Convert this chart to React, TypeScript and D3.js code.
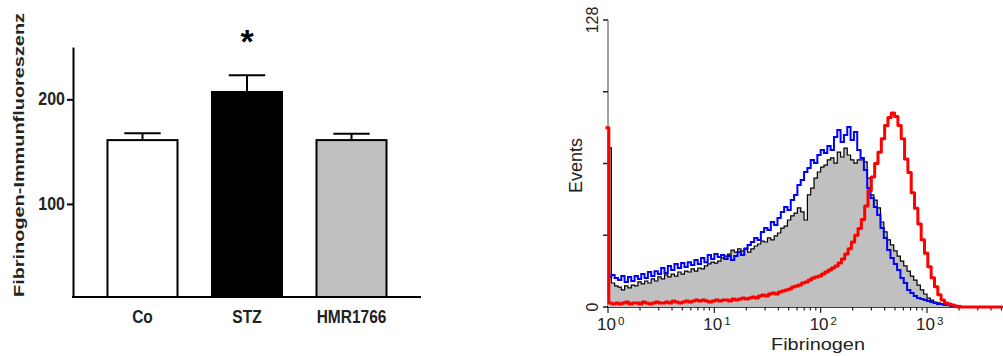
import { useEffect, useRef } from 'react';
import * as d3 from 'd3';

// left panel: mean fluorescence per group
const GROUPS = ['Co', 'STZ', 'HMR1766'];
const GROUP_MEANS = [161, 207, 161];
const GROUP_SEM = [6.5, 16, 6];
const GROUP_FILLS = ['#ffffff', '#000000', '#c0c0c0'];
const BAR_TICKS = [100, 200];

// right panel: flow cytometry overlay, 32 log channels per decade starting at 10^0
const EVENT_TICKS = [0, 32, 64, 96, 128];
const EVENT_LABELS = [0, 128];
const DECADES = [0, 1, 2, 3];
const CHANNELS_PER_DECADE = 32;

const GRAY_COUNTS = [
  71, 10.7, 9.4, 8.9, 7.6, 9.4, 8.5, 9.8, 9.4, 11.2,
  10.3, 11.6, 10.7, 12.5, 11.6, 13.4, 12.5, 14.3, 13.4, 14.7,
  13.8, 15.6, 14.7, 16, 15.6, 17, 16, 17.4, 17, 18.3,
  19.2, 20, 19.6, 20.5, 21.9, 22.7, 23.6, 25.4, 24.5, 25.9,
  25, 26.3, 24.5, 25.9, 27.2, 28.1, 29.4, 29, 30.8, 29.9,
  31.7, 33, 35.2, 36.1, 38.8, 40.6, 41.9, 44.2, 42.4, 38.8,
  50, 53, 57.5, 60.2, 62.4, 63.3, 65.6, 66.5, 64.2, 69.1,
  66.9, 70.9, 67.8, 65.6, 64.2, 65.6, 65.6, 64.7, 57.5, 50,
  47.7, 44.2, 37.9, 33.5, 29.9, 27.7, 25, 22.7, 20.5, 18.3,
  16, 13.8, 12, 9.8, 7.6, 5.8, 4, 3.1, 2.2, 1.8,
  1.3, 0.9, 0.9, 0.4, 0,
];

const BLUE_COUNTS = [
  13.4, 14.3, 12.9, 12, 13.8, 11.2, 13.4, 11.6, 13.8, 12.5,
  14.7, 12.9, 15.6, 13.8, 16, 14.7, 17.4, 15.2, 18.3, 16.5,
  19.2, 17.4, 19.6, 17.8, 20, 18.7, 21, 19.2, 21.9, 20,
  23.2, 21.4, 23.6, 22.3, 23.2, 21.4, 22.7, 21, 22.7, 24.5,
  23.2, 25.9, 27.7, 29, 30.8, 29.9, 33.5, 35.2, 34.3, 37.9,
  36.6, 39.7, 42.4, 44.6, 43.3, 47.7, 50, 54.4, 56.6, 60.2,
  62, 65.6, 64.2, 67.8, 70, 68.7, 71.8, 70, 75.8, 78.9,
  73.6, 76.7, 80.3, 74.5, 78.1, 70, 66.5, 61.1, 53.1, 48.6,
  44.6, 41, 35.2, 30.8, 25.4, 21.9, 19.2, 16.5, 12.9, 10.7,
  7.6, 6.2, 4.9, 4, 3.6, 3.1, 2.7, 2.2, 1.8, 1.3,
  1.3, 0.9, 0.9, 0.4, 0.4, 0.4, 0,
];

const RED_COUNTS = [
  80, 1.8, 1.3, 1.8, 1.3, 1.8, 2.2, 1.3, 1.8, 1.8,
  1.3, 2.2, 1.8, 1.3, 1.8, 2.2, 1.8, 1.8, 2.2, 1.8,
  2.7, 2.2, 1.8, 2.2, 2.7, 2.2, 2.7, 3.1, 2.7, 3.1,
  2.7, 2.2, 2.7, 3.1, 2.7, 3.1, 3.1, 2.7, 3.6, 3.1,
  3.6, 4, 3.6, 4, 4.5, 4, 4.9, 5.4, 4.9, 5.8,
  6.2, 5.8, 6.7, 7.1, 7.6, 8, 8.9, 9.4, 9.8, 10.7,
  11.2, 12, 12.9, 13.4, 13.8, 14.7, 15.6, 16.5, 17.4, 18.3,
  19.6, 21.4, 23.6, 26, 29, 32, 35, 39, 45, 52,
  58, 64, 69, 75, 81, 84.5, 86.5, 85, 81, 75,
  66, 60, 51, 44, 37, 30, 24, 18, 13, 9,
  5.5, 3.1, 1.8, 1.3, 0.9, 0.4, 0,
];

const FONT = '"Liberation Sans", Arial, sans-serif';

export default function App() {
  const svgRef = useRef<SVGSVGElement>(null);

  useEffect(() => {
    if (!svgRef.current) return;
    const svg = d3.select(svgRef.current);
    svg.selectAll('*').remove();

    // ---------- bar chart ----------
    const xBar = d3
      .scaleBand<string>()
      .domain(GROUPS)
      .range([73, 421])
      .paddingInner(0.33)
      .paddingOuter(0.33);
    const yBar = d3.scaleLinear().domain([11, 250]).range([297, 47]);
    const base = yBar.range()[0];

    const left = svg.append('g');

    GROUPS.forEach((grp, i) => {
      const x0 = xBar(grp) ?? 0;
      const bw = xBar.bandwidth();
      const cx = x0 + bw / 2;
      const top = yBar(GROUP_MEANS[i] + GROUP_SEM[i]);
      left.append('line')
        .attr('x1', cx).attr('x2', cx)
        .attr('y1', yBar(GROUP_MEANS[i])).attr('y2', top)
        .attr('stroke', '#000').attr('stroke-width', 2);
      left.append('line')
        .attr('x1', cx - bw * 0.26).attr('x2', cx + bw * 0.26)
        .attr('y1', top).attr('y2', top)
        .attr('stroke', '#000').attr('stroke-width', 2);
      left.append('rect')
        .attr('x', x0)
        .attr('y', yBar(GROUP_MEANS[i]))
        .attr('width', bw)
        .attr('height', base - yBar(GROUP_MEANS[i]))
        .attr('fill', GROUP_FILLS[i])
        .attr('stroke', '#000')
        .attr('stroke-width', 2);
      left.append('text')
        .attr('transform', `translate(${cx},323) scale(1,1.2)`)
        .attr('text-anchor', 'middle')
        .attr('font-family', FONT)
        .attr('font-weight', 'bold')
        .attr('font-size', 15.5)
        .attr('fill', '#222')
        .text(grp);
    });

    // y axis
    const yAxis = left.append('g')
      .attr('transform', 'translate(73,0)')
      .call(d3.axisLeft(yBar).tickValues(BAR_TICKS).tickSize(6).tickSizeOuter(0).tickFormat(() => ''));
    yAxis.selectAll('.domain, .tick line').attr('stroke', '#000').attr('stroke-width', 2);
    BAR_TICKS.forEach((t) => {
      left.append('text')
        .attr('transform', `translate(65,${yBar(t) + 6}) scale(1,1.15)`)
        .attr('text-anchor', 'end')
        .attr('font-family', FONT)
        .attr('font-weight', 'bold')
        .attr('font-size', 16)
        .attr('fill', '#222')
        .text(t);
    });
    left.append('line')
      .attr('x1', 72).attr('x2', xBar.range()[1])
      .attr('y1', base).attr('y2', base)
      .attr('stroke', '#000').attr('stroke-width', 2);

    left.append('text')
      .attr('transform', `translate(24,${(13 + 297) / 2}) rotate(-90)`)
      .attr('text-anchor', 'middle')
      .attr('font-family', FONT)
      .attr('font-weight', 'bold')
      .attr('font-size', 15.5)
      .attr('textLength', 284)
      .attr('lengthAdjust', 'spacingAndGlyphs')
      .attr('fill', '#222')
      .text('Fibrinogen-Immunfluoreszenz');

    // significance mark over STZ
    left.append('text')
      .attr('x', (xBar('STZ') ?? 0) + xBar.bandwidth() / 2)
      .attr('y', 53)
      .attr('text-anchor', 'middle')
      .attr('font-family', FONT)
      .attr('font-weight', 'bold')
      .attr('font-size', 34)
      .text('*');

    // ---------- histogram overlay ----------
    const xLog = d3.scaleLog().domain([1, 1000]).range([608, 927]);
    const yEv = d3.scaleLinear().domain([0, 128]).range([307, 20]);
    const xMax = xLog.invert(1003);
    const right = svg.append('g');

    // y axis
    right.append('line')
      .attr('x1', 608).attr('x2', 608)
      .attr('y1', yEv(128)).attr('y2', yEv(0))
      .attr('stroke', '#808080').attr('stroke-width', 1.5);
    EVENT_TICKS.forEach((t) => {
      right.append('line')
        .attr('x1', 603).attr('x2', 608)
        .attr('y1', yEv(t)).attr('y2', yEv(t))
        .attr('stroke', '#222').attr('stroke-width', 1.5);
    });
    EVENT_LABELS.forEach((t) => {
      right.append('text')
        .attr('transform', `translate(598,${yEv(t)}) rotate(-90)`)
        .attr('text-anchor', 'middle')
        .attr('font-family', FONT)
        .attr('font-size', 16)
        .attr('fill', '#222')
        .text(t);
    });
    right.append('text')
      .attr('transform', `translate(582,${(yEv(0) + yEv(128)) / 2 + 2}) rotate(-90)`)
      .attr('text-anchor', 'middle')
      .attr('font-family', FONT)
      .attr('font-size', 18)
      .attr('fill', '#222')
      .text('Events');

    // x axis
    right.append('line')
      .attr('x1', 607).attr('x2', 1003)
      .attr('y1', yEv(0)).attr('y2', yEv(0))
      .attr('stroke', '#000').attr('stroke-width', 1.5);
    DECADES.forEach((d) => {
      d3.range(1, 10).forEach((k) => {
        const v = k * Math.pow(10, d);
        if (v > xMax) return;
        right.append('line')
          .attr('x1', xLog(v)).attr('x2', xLog(v))
          .attr('y1', yEv(0)).attr('y2', yEv(0) + (k === 1 ? 6 : 3.5))
          .attr('stroke', '#222').attr('stroke-width', 1.2);
      });
      const lbl = right.append('text')
        .attr('x', xLog(Math.pow(10, d)) - 11)
        .attr('y', 330)
        .attr('font-family', FONT)
        .attr('font-size', 17)
        .attr('fill', '#222');
      lbl.append('tspan').text('10');
      lbl.append('tspan').attr('dx', 2).attr('dy', -5).attr('font-size', 11.5).text(d);
    });
    right.append('text')
      .attr('x', 818)
      .attr('y', 350)
      .attr('text-anchor', 'middle')
      .attr('font-family', FONT)
      .attr('font-size', 17)
      .attr('textLength', 94)
      .attr('lengthAdjust', 'spacingAndGlyphs')
      .attr('fill', '#222')
      .text('Fibrinogen');

    const chanX = (i: number) => xLog(Math.pow(10, i / CHANNELS_PER_DECADE));
    const toPts = (counts: number[]) =>
      counts.map((c, i) => [chanX(i), yEv(c)] as [number, number]);

    const area = d3.area<[number, number]>()
      .curve(d3.curveStepAfter)
      .x((p) => p[0]).y0(yEv(0)).y1((p) => p[1]);
    const line = d3.line<[number, number]>()
      .curve(d3.curveStepAfter)
      .x((p) => p[0]).y((p) => p[1]);

    const grayPts = toPts(GRAY_COUNTS);
    right.append('path').attr('d', area(grayPts)).attr('fill', '#c0c0c0');
    right.append('path').attr('d', line(grayPts))
      .attr('fill', 'none').attr('stroke', '#000').attr('stroke-width', 1.2);

    right.append('path').attr('d', line(toPts(BLUE_COUNTS)))
      .attr('fill', 'none').attr('stroke', '#0000ff').attr('stroke-width', 2);

    // red overlay sits a hair left of the others, as in the original export
    const redPts = toPts(RED_COUNTS);
    redPts.push([xLog(xMax) + 2, yEv(0)]);
    right.append('path').attr('d', line(redPts))
      .attr('transform', 'translate(-2.5,0)')
      .attr('fill', 'none').attr('stroke', '#ff0000').attr('stroke-width', 3)
      .attr('stroke-linejoin', 'round');
  }, []);

  return (
    <svg
      ref={svgRef}
      width={1003}
      height={356}
      style={{ position: 'absolute', left: 0, top: 0, background: '#fff' }}
    />
  );
}
